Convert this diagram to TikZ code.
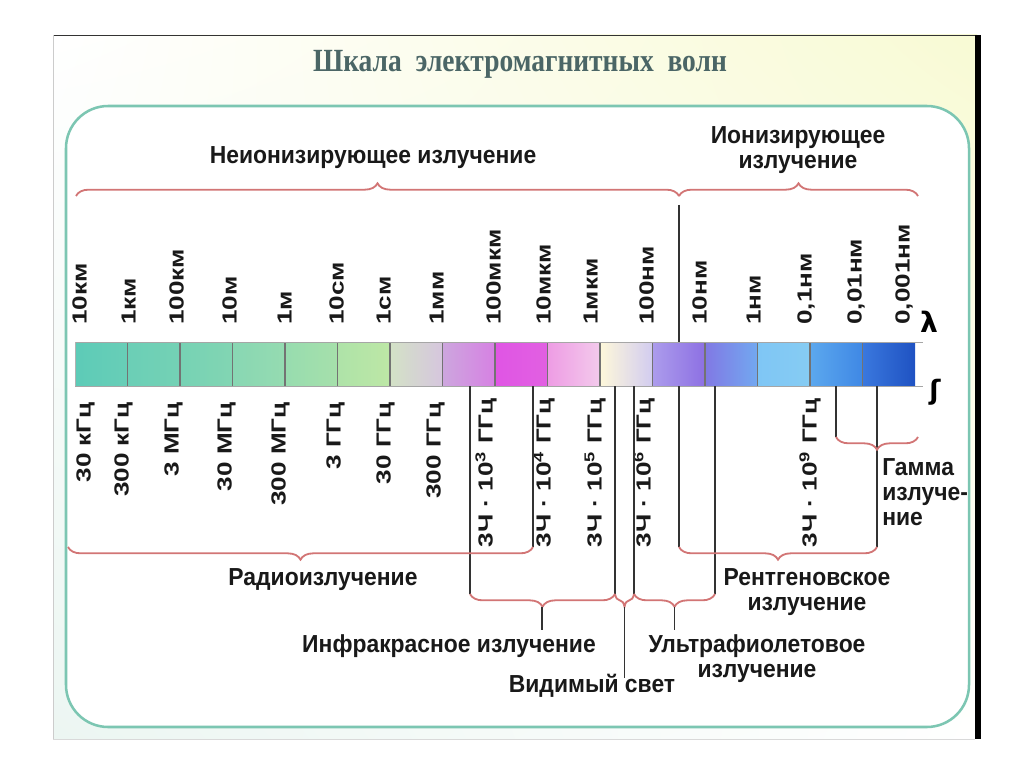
\documentclass[tikz,border=0pt]{standalone}
\usepackage{fontspec}
\setmainfont{Liberation Sans}
\newfontfamily\lab{Liberation Sans}[FakeStretch=0.93]
\newfontfamily\rot{Liberation Sans}[FakeStretch=1.28]
\newfontfamily\ttl{Liberation Serif}[FakeStretch=0.85]
\newfontfamily\dvs{DejaVu Sans}
\usetikzlibrary{decorations.pathreplacing,shadings}
\definecolor{frameteal}{HTML}{7CC6B2}
\definecolor{bracered}{HTML}{D27575}
\definecolor{titlecol}{HTML}{4B6666}
\definecolor{bgy}{HTML}{F8FAD4}
\definecolor{bgt}{HTML}{ECF6F2}
\definecolor{c1a}{HTML}{5DCBB7}\definecolor{c1b}{HTML}{68CEB7}
\definecolor{c2a}{HTML}{6BCFB6}\definecolor{c2b}{HTML}{74D1B5}
\definecolor{c3a}{HTML}{76D2B4}\definecolor{c3b}{HTML}{82D5B3}
\definecolor{c4a}{HTML}{88D7B3}\definecolor{c4b}{HTML}{95DBB1}
\definecolor{c5a}{HTML}{97DCAF}\definecolor{c5b}{HTML}{A6E0AB}
\definecolor{c6a}{HTML}{AEE3A8}\definecolor{c6b}{HTML}{BDE7A6}
\definecolor{c7a}{HTML}{D3E2C6}\definecolor{c7b}{HTML}{D6C6DE}
\definecolor{c8a}{HTML}{CDA6DE}\definecolor{c8b}{HTML}{D681E3}
\definecolor{c9a}{HTML}{E055E4}\definecolor{c9b}{HTML}{E160E2}
\definecolor{c10a}{HTML}{EE9CE4}\definecolor{c10b}{HTML}{F3CAEC}
\definecolor{c11a}{HTML}{FEF8DA}\definecolor{c11b}{HTML}{D2CCF0}
\definecolor{c12a}{HTML}{AC9CEC}\definecolor{c12b}{HTML}{8D70E3}
\definecolor{c13a}{HTML}{8179E4}\definecolor{c13b}{HTML}{72A8F0}
\definecolor{c14a}{HTML}{7FC6F5}\definecolor{c14b}{HTML}{86CCF3}
\definecolor{c15a}{HTML}{5CA8EE}\definecolor{c15b}{HTML}{3F88E5}
\definecolor{c16a}{HTML}{3A78DE}\definecolor{c16b}{HTML}{1F52C2}
\begin{document}
\begin{tikzpicture}[x=0.025cm,y=-0.025cm,
  lbl/.style={font=\lab\bfseries\fontsize{17.5}{17.8}\selectfont, inner sep=0, text=black!90},
  rlab/.style={font=\rot\bfseries\fontsize{14.5}{14.5}\selectfont, inner sep=0, rotate=90, text=black!90},
  wl/.style={rlab, anchor=mid west},
  fl/.style={rlab, anchor=mid east},
  brc/.style={draw=bracered, line width=1.3pt, decorate, decoration={brace, amplitude=9pt}},
  brcd/.style={draw=bracered, line width=1.3pt, decorate, decoration={brace, amplitude=9pt, mirror}},
  vl/.style={draw=black!80, line width=0.9pt},
  div/.style={draw=black!55, line width=0.8pt}]
\useasboundingbox (0,0) rectangle (1024,767);
\fill[white] (0,0) rectangle (1024,767);
% panel
\shade[upper left=white, upper right=bgy, lower left=bgt, lower right=white] (53,35) rectangle (977,739);
\draw[black!80, line width=0.7pt] (53,35) -- (977,35);
\draw[black!20, line width=0.7pt] (53,35) -- (53,739);
\draw[black!15, line width=0.7pt] (53,739) -- (975,739);
\fill[black] (975,35) rectangle (981,739);
\draw[frameteal, line width=1.8pt, fill=white, rounded corners=30pt] (66,106) rectangle (969,727);
% title
\node[font=\ttl\bfseries\fontsize{23}{25}\selectfont, text=titlecol, inner sep=0] (title) at (520,64) {Шкала\ \ электромагнитных\ \ волн};
% bar
\foreach \i in {1,...,16}{
  \shade[left color=c\i a, right color=c\i b] ({75+52.5*(\i-1)},342) rectangle ({75+52.5*\i},386);
}
\foreach \i in {1,...,15}{
  \draw[div] ({75+52.5*\i},342) -- ++(0,44);
}
\draw[gray!70, line width=0.7pt] (75,342) -- (923,342);
\draw[gray!70, line width=0.7pt] (75,386) -- (923,386);
\draw[gray!60, line width=0.5pt] (75,342) -- (75,386);
% coordinates
\coordinate (t679) at (679,205);
\coordinate (bt679) at (679,342);
\foreach \x in {470,533,615,634,679,715,836,877}{ \coordinate (b\x) at (\x,386); }
% wavelength labels
\foreach \x/\t in {83/10км,132/1км,180/100км,233/10м,288/1м,340/10см,387/1см,440/1мм,497/100мкм,547/10мкм,594/1мкм,650/100нм,703/10нм,757/1нм,808/{0,1нм},858/{0,01нм},906/{0,001нм}}{
  \node[wl] (w\x) at (\x,325) {\t};
}
% frequency labels
\foreach \x/\t in {87/30 кГц,125/300 кГц,175/3 МГц,228/30 МГц,282/300 МГц,337/3 ГГц,387/30 ГГц,437/300 ГГц}{
  \node[fl] (f\x) at (\x,402) {\t};
}
\foreach \x/\e in {489/3,547/4,598/5,647/6,813/9}{
  \node[fl] (f\x) at (\x,398) {3Ч · 10\textsuperscript{\e} ГГц};
}
\node[font=\dvs\bfseries\fontsize{20}{20}\selectfont, inner sep=0] (lam) at (929,322) {λ};
\node[font=\dvs\bfseries\fontsize{19}{19}\selectfont, inner sep=0] (fsym) at (935,392) {ʃ};
% brace end coordinates
\coordinate (nA) at (76,196); \coordinate (nB) at (679,196); \coordinate (nC) at (918,196);
\coordinate (rA) at (68,547); \coordinate (rB) at (533,547);
\coordinate (iA) at (470,594); \coordinate (iB) at (615,594);
\coordinate (vB) at (634,594); \coordinate (uB) at (715,594);
\coordinate (xA) at (679,547); \coordinate (xB) at (877,547);
\coordinate (gA) at (836,437); \coordinate (gB) at (918,437);
% vertical lines
\draw[vl] (t679) -- (bt679);
\draw[vl] (b679) -- (xA);
\draw[vl] (b470) -- (iA);
\draw[vl] (b533) -- (rB);
\draw[vl] (b615) -- (iB);
\draw[vl] (b634) -- (vB);
\draw[vl] (b715) -- (uB);
\draw[vl] (b836) -- (gA);
\draw[vl] (b877) -- (xB);
% braces
\draw[brc] (nA) -- (nB);
\draw[brc] (nB) -- (nC);
\draw[brcd] (rA) -- (rB);
\draw[brcd] (iA) -- (iB);
\draw[brcd] (iB) -- (vB);
\draw[brcd] (vB) -- (uB);
\draw[brcd] (xA) -- (xB);
\draw[brcd] (gA) -- (gB);
% pointer lines
\coordinate (ipt) at (542,607); \coordinate (ipe) at (542,630);
\coordinate (vpt) at (624.5,607); \coordinate (vpe) at (624.5,678);
\coordinate (upt) at (674.5,607); \coordinate (upe) at (674.5,630);
\draw[vl] (ipt) -- (ipe);
\draw[vl] (vpt) -- (vpe);
\draw[vl] (upt) -- (upe);
% labels
\node[lbl] (nonion) at (373,158) {Неионизирующее излучение};
\node[lbl, align=center] (ion) at (798,150) {Ионизирующее\\излучение};
\node[lbl] (radio) at (323,580) {Радиоизлучение};
\node[lbl] (ir) at (449,646) {Инфракрасное излучение};
\node[lbl] (vis) at (592,686) {Видимый свет};
\node[lbl, align=center] (uv) at (757,659) {Ультрафиолетовое\\излучение};
\node[lbl, align=center] (xray) at (807,592) {Рентгеновское\\излучение};
\node[lbl, align=left, anchor=north west] (gamma) at (882,458) {Гамма\\излуче-\\ние};
\end{tikzpicture}
\end{document}
